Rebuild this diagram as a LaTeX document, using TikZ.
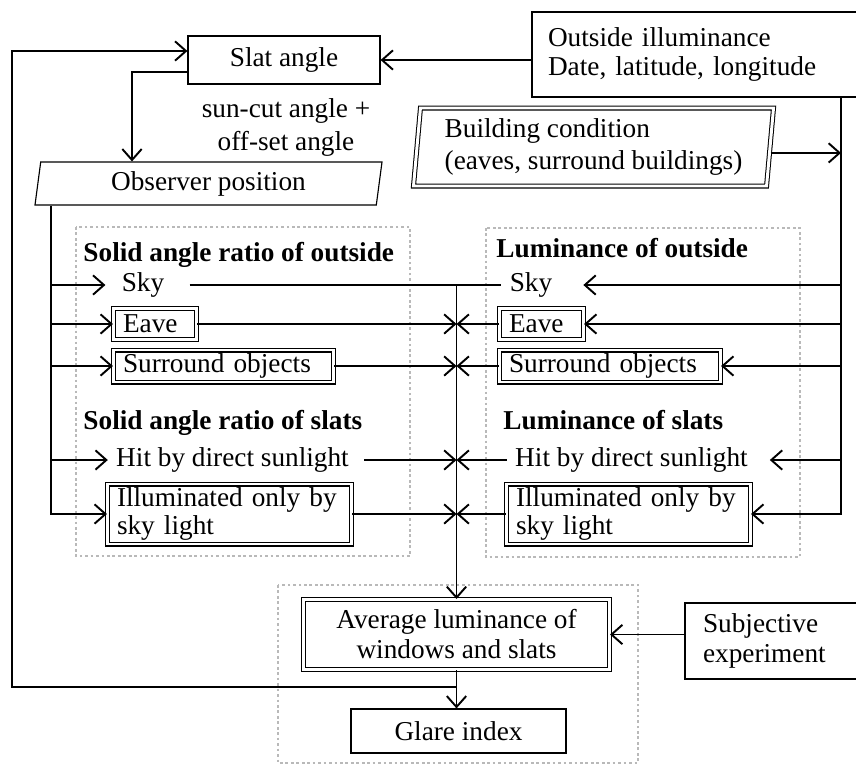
\documentclass[tikz,border=0pt]{standalone}
\usepackage{fontspec}
\setmainfont{Liberation Serif}
\usetikzlibrary{arrows.meta,shapes.geometric}
\tikzset{
  sz/.style 2 args={minimum width=#1*0.44pt, minimum height=#2*0.44pt},
  tw/.style={text width=#1*0.44pt, align=left},
  box/.style={draw, line width=0.5pt, inner ysep=0pt},
  dbox/.style={draw, double, double distance=1.3pt, line width=0.45pt, inner ysep=0pt, inner xsep=4.2pt},
  txt/.style={inner xsep=3.5pt, inner ysep=0pt},
  hdr/.style={font=\fontsize{12}{13.5}\selectfont\bfseries, anchor=west, inner sep=0pt},
  group/.style={draw=gray!55, line width=1.1pt, dash pattern=on 1.2pt off 1.2pt},
  link/.style={line width=0.85pt},
  arr/.style={link, -{Straight Barb[length=4.8pt,width=8.5pt]}}
}
\begin{document}
\begin{tikzpicture}[x=0.44pt, y=-0.44pt, font=\fontsize{12}{13.5}\selectfont]

      \useasboundingbox (0,0) rectangle (856,769);

      \draw[group] (76,227) rectangle (410,556);
      \draw[group] (486,228) rectangle (800,557);
      \draw[group] (278,585) rectangle (638,763);

      \begin{scope}[every node/.style={box}]
        \node[sz={192}{48}] (slat) at (284,60) {Slat angle};
        \node[sz={326}{85}, inner xsep=7pt, tw={294}, font=\fontsize{12}{12.5}\selectfont] (outside) at (695,54.5)
          {Outside illuminance\\Date, latitude, longitude};
        \node[trapezium, trapezium left angle=77, trapezium right angle=103, trapezium stretches body,
          inner xsep=0pt, sz={347}{43}] (obs) at (208.5,183.5) {Observer position};
        \node[sz={173}{76}, inner xsep=7.9pt, tw={137}] (subj) at (771.5,641) {Subjective\\experiment};
        \node[sz={215}{44}] (glare) at (458.5,731) {Glare index};
      \end{scope}

      \node[trapezium, trapezium left angle=83, trapezium right angle=97, trapezium stretches body,
        draw, double, double distance=1.3pt, line width=0.45pt, inner sep=0pt, sz={360}{78},
        align=left, font=\fontsize{12}{14}\selectfont] (bld) at (593.5,147)
        {Building condition\\(eaves, surround buildings)};

      \node[align=center, font=\fontsize{12}{14.5}\selectfont] (cut) at (286,127) {sun-cut angle +\\off-set angle};

      \begin{scope}[every node/.style={dbox}]
        \node[sz={83}{31}, tw={64}] (eaveL) at (155,324) {Eave};
        \node[sz={84}{31}, tw={65}] (eaveR) at (541.5,324) {Eave};
        \node[sz={220}{32}, tw={201}] (surL) at (223.5,366) {Surround objects};
        \node[sz={221}{32}, tw={202}] (surR) at (610,366) {Surround objects};
        \node[sz={244}{60}, tw={225}, font=\fontsize{12}{12.5}\selectfont] (illL) at (229.5,514) {Illuminated only by\\sky light};
        \node[sz={244}{60}, tw={225}, font=\fontsize{12}{12.5}\selectfont] (illR) at (628.5,514) {Illuminated only by\\sky light};
        \node[sz={306}{70}, align=center, inner xsep=0pt, font=\fontsize{12}{13.2}\selectfont] (avg) at (456.5,634.5)
          {Average luminance of\\windows and slats};
      \end{scope}

      \begin{scope}[every node/.style={txt}]
        \node (skyL) at (143,285) {Sky};
        \node (skyR) at (531,285) {Sky};
        \node (hitL) at (232.5,460) {Hit by direct sunlight};
        \node (hitR) at (631.5,460) {Hit by direct sunlight};
      \end{scope}

      \node[hdr] (hdrLO) at (83,255) {Solid angle ratio of outside};
      \node[hdr] (hdrLS) at (83,423) {Solid angle ratio of slats};
      \node[hdr] (hdrRO) at (496,248) {Luminance of outside};
      \node[hdr] (hdrRS) at (503,420) {Luminance of slats};

      \draw[arr] (slat.east -| outside.west) -- (slat.east);
      \draw[arr] ([yshift=-5.3pt]slat.west) -| (132,0 |- obs.north);
      \draw[arr] (avg.south |- 0,687) -| (12,51) -- (slat.west |- 12,51);

      \draw[arr] (51,0 |- obs.south) |- (illL.west);
      \draw[arr, shorten >=3.5pt] (skyL -| 51,0) -- (skyL.west);
      \draw[arr] (eaveL -| 51,0) -- (eaveL.west);
      \draw[arr] (surL -| 51,0) -- (surL.west);
      \draw[arr] (hitL -| 51,0) -- (hitL.west);

      \draw[link, shorten <=7.5pt] (skyL.east) -- (skyR.west);
      \draw[arr] (avg.north |- skyL) -- (avg.north);
      \draw[arr] (eaveL.east) -- (avg.north |- eaveL);
      \draw[arr] (eaveR.west) -- (avg.north |- eaveR);
      \draw[arr] (surL.east) -- (avg.north |- surL);
      \draw[arr] (surR.west) -- (avg.north |- surR);
      \draw[arr, shorten <=3pt] (hitL.east) -- (avg.north |- hitL);
      \draw[arr] (hitR.west) -- (avg.north |- hitR);
      \draw[arr] (illL.east) -- (avg.north |- illL);
      \draw[arr] (illR.west) -- (avg.north |- illR);

      \draw[arr] (841,0 |- outside.south) |- (illR.east);
      \draw[arr, shorten >=10pt] (skyR -| 841,0) -- (skyR.east);
      \draw[arr] (eaveR -| 841,0) -- (eaveR.east);
      \draw[arr] (surR -| 841,0) -- (surR.east);
      \draw[arr, shorten >=6pt] (hitR -| 841,0) -- (hitR.east);
      \draw[arr] ([yshift=-2.6pt]bld.east) -- ([yshift=-2.6pt]bld.east -| 841,0);

      \draw[arr] (subj.west |- avg.east) -- (avg.east);
      \draw[arr] (avg.south) -- (avg.south |- glare.north);

    \end{tikzpicture}
\end{document}
